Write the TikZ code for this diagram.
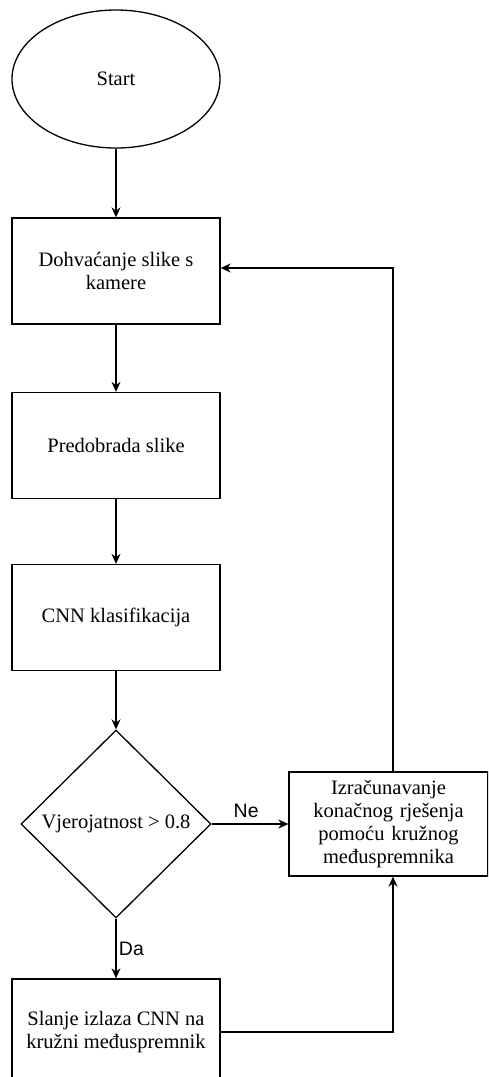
\documentclass[tikz,border=0pt]{standalone}
\usepackage{fontspec}
\setmainfont{Liberation Serif}
\newfontfamily\labelfont{Liberation Sans}
\usetikzlibrary{shapes.geometric,arrows.meta}
\begin{document}
\begin{tikzpicture}[x=1pt,y=-1pt,
  line width=1.3pt,
  every node/.style={font=\fontsize{20.5}{23}\selectfont},
  box/.style={draw,rectangle,minimum width=208pt,minimum height=106pt,align=center,inner sep=2pt},
  arr/.style={-{Stealth[length=10pt,width=9pt]}},
  lbl/.style={font=\labelfont\fontsize{19.5}{22}\selectfont}]
\useasboundingbox (0,0) rectangle (488,1077);
\clip (0,0) rectangle (488,1077);
\node[draw,ellipse,minimum width=208pt,minimum height=138pt] (start) at (116,79) {Start};
\node[box] (fetch) at (116,271) {Dohvaćanje slike s\\kamere};
\node[box] (pre) at (116,445.5) {Predobrada slike};
\node[box] (cnn) at (116,617.5) {CNN klasifikacija};
\node[draw,diamond,minimum width=190pt,minimum height=188pt,inner sep=0pt,aspect=1] (dec) at (116,824) {Vjerojatnost > 0.8};
\node[box] (send) at (116,1032) {Slanje izlaza CNN na\\kružni međuspremnik};
\node[box,minimum width=199pt,minimum height=104pt,text width=190pt] (calc) at (388.5,824) {Izračunavanje\\konačnog rješenja\\pomoću kružnog\\međuspremnika};
\coordinate (tr) at (393,268);
\coordinate (br) at (393,1032);
\draw[arr] (start) -- (fetch);
\draw[arr] (fetch) -- (pre);
\draw[arr] (pre) -- (cnn);
\draw[arr] (cnn) -- (dec);
\draw[arr] (dec.east) -- node[lbl,above=2pt,pos=0.45] {Ne} (calc.west);
\draw[arr] (dec.south) -- node[lbl,right=-1pt,pos=0.5] {Da} (send.north);
\draw[arr] (send.east |- br) -- (br) -- (calc.south -| br);
\draw[arr] (calc.north -| tr) -- (tr) -- (fetch.east |- tr);
\end{tikzpicture}
\end{document}
